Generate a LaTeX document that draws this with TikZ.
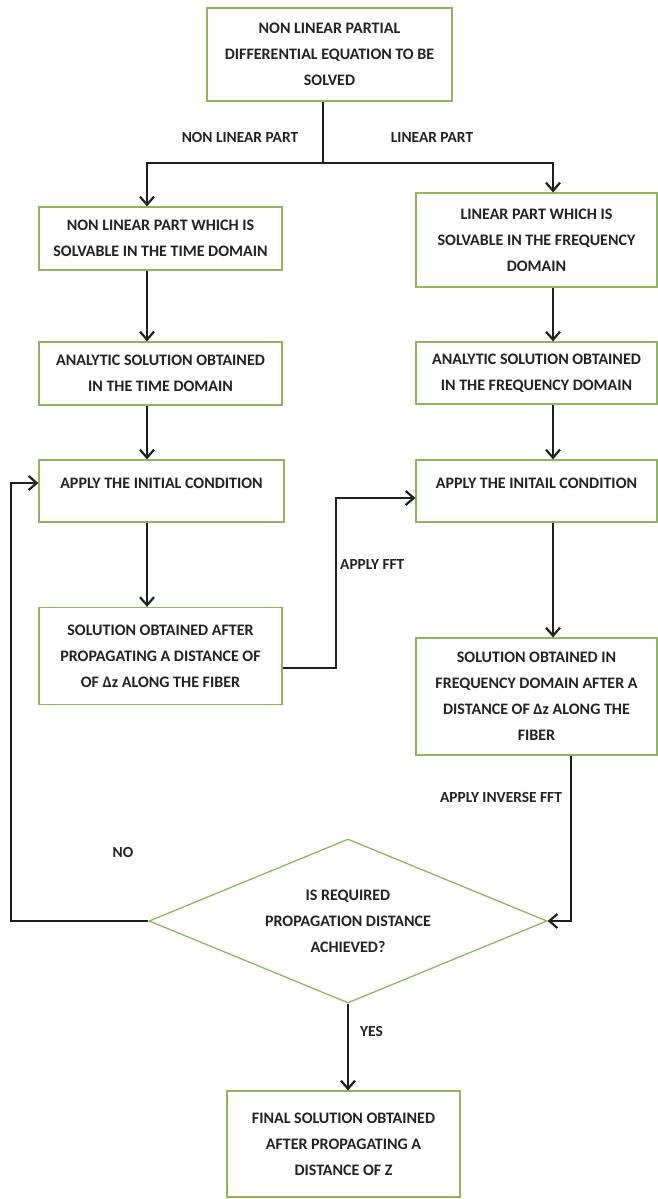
\documentclass[tikz,border=0pt]{standalone}
\usepackage{fontspec}
\setmainfont{Carlito}
\usetikzlibrary{arrows.meta,shapes.geometric,calc}
\definecolor{boxgreen}{HTML}{93B45E}
\definecolor{txt}{HTML}{222222}
\newcommand{\shiftup}[2]{\raisebox{#1}[\height][\depth]{#2}}
\begin{document}
\begin{tikzpicture}[x=1pt,y=-1pt,
  box/.style={draw=boxgreen,line width=1.3pt,fill=white,align=center,inner sep=0pt,text=txt,font=\bfseries\fontsize{16}{26}\selectfont},
  lbl/.style={text=txt,inner sep=0pt,font=\bfseries\fontsize{15.4}{20}\selectfont},
  conn/.style={line width=2.2pt,draw=black!88},
  arr/.style={conn,-{Straight Barb[length=8pt,width=14pt,line width=2.2pt]}}
]
\useasboundingbox (0,0) rectangle (657,1199);

% boxes
\node[box,minimum width=245pt,minimum height=93pt] (top) at (329.5,54.5) {NON LINEAR PARTIAL\\DIFFERENTIAL EQUATION TO BE\\SOLVED};
\node[box,minimum width=243pt,minimum height=63pt] (L1) at (160.5,238.5) {NON LINEAR PART WHICH IS\\SOLVABLE IN THE TIME DOMAIN};
\node[box,minimum width=243pt,minimum height=63pt] (L2) at (160.5,373.5) {ANALYTIC SOLUTION OBTAINED\\IN THE TIME DOMAIN};
\node[box,minimum width=245pt,minimum height=62pt] (L3) at (161.5,491) {\shiftup{8pt}{APPLY THE INITIAL CONDITION}};
\node[box,minimum width=243pt,minimum height=97pt] (L4) at (160.5,656) {SOLUTION OBTAINED AFTER\\PROPAGATING A DISTANCE OF\\OF Δz ALONG THE FIBER};
\node[box,minimum width=241pt,minimum height=94pt] (R1) at (536.5,240) {LINEAR PART WHICH IS\\SOLVABLE IN THE FREQUENCY\\DOMAIN};
\node[box,minimum width=241pt,minimum height=62pt] (R2) at (536.5,373) {ANALYTIC SOLUTION OBTAINED\\IN THE FREQUENCY DOMAIN};
\node[box,minimum width=241pt,minimum height=62pt] (R3) at (536.5,491) {\shiftup{8pt}{APPLY THE INITAIL CONDITION}};
\node[box,minimum width=241pt,minimum height=117pt] (R4) at (536.5,696.5) {SOLUTION OBTAINED IN\\FREQUENCY DOMAIN AFTER A\\DISTANCE OF Δz ALONG THE\\FIBER};
\node[box,shape=diamond,aspect=2.4,minimum width=398pt,minimum height=164pt] (D) at (348,921) {IS REQUIRED\\PROPAGATION DISTANCE\\ACHIEVED?};
\node[box,minimum width=233pt,minimum height=106pt] (F) at (343.5,1144) {FINAL SOLUTION OBTAINED\\AFTER PROPAGATING A\\DISTANCE OF Z};

% helper coordinates
\coordinate (split) at (323,163);
\coordinate (colL) at (147,0);
\coordinate (colR) at (553,0);
\coordinate (fa) at (336,668);
\coordinate (fb) at (336,498);
\coordinate (ia) at (571,921);
\coordinate (na) at (11,921);
\coordinate (nb) at (11,483);

% connectors
\draw[conn] (top.south -| split) -- (split);
\draw[arr] (split) -| (L1.north -| colL);
\draw[arr] (split) -| (R1.north -| colR);
\draw[arr] (L1.south -| colL) -- (L2.north -| colL);
\draw[arr] (L2.south -| colL) -- (L3.north -| colL);
\draw[arr] (L3.south -| colL) -- (L4.north -| colL);
\draw[arr] (R1.south -| colR) -- (R2.north -| colR);
\draw[arr] (R2.south -| colR) -- (R3.north -| colR);
\draw[arr] (R3.south -| colR) -- (R4.north -| colR);
\draw[arr] (L4.east |- fa) -- (fa) -- (fb) -- (R3.west |- fb);
\draw[arr] (R4.south -| ia) -- (ia) -- (D.east);
\draw[arr] (D.west) -- (na) -- (nb) -- (L3.west |- nb);
\draw[arr] (D.south) -- (F.north -| D.south);

% labels
\node[lbl] (lnl) at (240,138) {NON LINEAR PART};
\node[lbl] (llp) at (432,138) {LINEAR PART};
\node[lbl,anchor=west] (lfft) at (340,565) {APPLY FFT};
\node[lbl] (linv) at (501,797) {APPLY INVERSE FFT};
\node[lbl] (lno) at (123,852) {NO};
\node[lbl,anchor=west] (lyes) at (360,1031) {YES};
\end{tikzpicture}
\end{document}
